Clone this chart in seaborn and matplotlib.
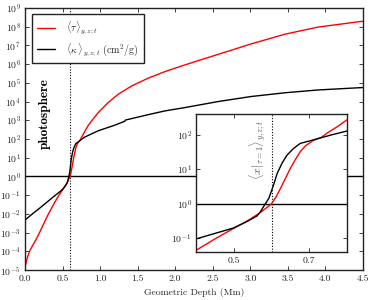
import numpy as np
import matplotlib
matplotlib.use("Agg")
import matplotlib.pyplot as plt
import matplotlib.ticker as mticker
import matplotlib.transforms as mtrans
import seaborn as sns

# ---- data ----
depth_tau = [0.0, 0.03, 0.06, 0.09, 0.15, 0.2, 0.3, 0.4, 0.45, 0.5, 0.54, 0.571,
             0.585, 0.6, 0.612, 0.624, 0.637, 0.65, 0.663, 0.676, 0.69, 0.711,
             0.731, 0.75, 0.775, 0.798, 0.84, 0.887, 0.975, 1.108, 1.241, 1.418,
             1.64, 1.862, 2.084, 2.3, 2.57, 3.01, 3.46, 3.9, 4.45, 4.5]
log_tau = [-4.85, -4.35, -4.0, -3.78, -3.35, -2.95, -2.1, -1.35, -1.02, -0.71,
           -0.47, -0.25, -0.13, 0.0, 0.2, 0.45, 0.74, 1.03, 1.28, 1.51, 1.68,
           1.84, 1.92, 2.07, 2.24, 2.42, 2.71, 2.97, 3.41, 3.95, 4.39, 4.83,
           5.25, 5.6, 5.9, 6.18, 6.52, 7.08, 7.6, 7.98, 8.27, 8.29]

depth_kappa = [0.0, 0.1, 0.2, 0.3, 0.4, 0.45, 0.5, 0.536, 0.562, 0.571, 0.582,
               0.593, 0.604, 0.615, 0.628, 0.641, 0.658, 0.676, 0.7, 0.72, 0.76,
               0.8, 0.975, 1.197, 1.33, 1.335, 1.64, 1.862, 2.13, 2.57, 3.01,
               3.46, 3.9, 4.45, 4.5]
log_kappa = [-2.33, -2.0, -1.68, -1.35, -1.02, -0.86, -0.70, -0.51, -0.35, -0.22,
             -0.03, 0.16, 0.50, 0.88, 1.18, 1.41, 1.6, 1.75, 1.82, 1.88, 2.0,
             2.11, 2.44, 2.74, 2.95, 3.01, 3.3, 3.5, 3.68, 4.0, 4.27, 4.47, 4.62,
             4.74, 4.75]

x_main_ticks = [0.0, 0.5, 1.0, 1.5, 2.0, 2.5, 3.0, 3.5, 4.0, 4.5]
x_inset_ticks = [0.5, 0.7]
photosphere_depth = 0.6

tau = 10.0 ** np.array(log_tau)
kappa = 10.0 ** np.array(log_kappa)

# ---- style ----
sns.set_theme(style="ticks")
plt.rcParams["font.family"] = ["cmr10", "DejaVu Serif"]
plt.rcParams["mathtext.fontset"] = "cm"
plt.rcParams["axes.formatter.use_mathtext"] = True
plt.rcParams["axes.unicode_minus"] = False

fig = plt.figure(figsize=(3.74, 3.0), dpi=100)
ax = fig.add_axes([0.0668, 0.1, 0.9037, 0.8733])

lbl_tau = r"$\langle\tau\rangle_{y,z;t}$"
lbl_kap = r"$\langle\kappa\,\rangle_{y,z;t}\ (\mathrm{cm}^2/\mathrm{g})$"

sns.lineplot(x=depth_tau, y=tau, ax=ax, color="red", lw=1.0, label=lbl_tau)
sns.lineplot(x=depth_kappa, y=kappa, ax=ax, color="black", lw=1.0, label=lbl_kap)
ax.axhline(1.0, color="black", lw=1.0, zorder=1)
ax.axvline(photosphere_depth, color="black", lw=0.8, ls=(0, (1, 1.5)), zorder=1)

ax.set_yscale("log")
ax.set_xlim(0, 4.5)
ax.set_ylim(1e-5, 1e9)
ax.set_xticks(x_main_ticks)
ax.xaxis.set_major_formatter(mticker.FormatStrFormatter("%.1f"))
ax.yaxis.set_major_locator(mticker.LogLocator(base=10, numticks=20))
ax.yaxis.set_minor_locator(mticker.NullLocator())
ax.tick_params(which="both", direction="in", top=True, right=True,
               length=3, width=0.6, labelsize=7, colors="#222222", pad=3)
ax.set_xlabel("Geometric Depth (Mm)", fontsize=7, labelpad=4)
ax.set_ylabel("")
for s in ax.spines.values():
    s.set_linewidth(1.0)
    s.set_color("#222222")

leg = ax.legend(loc="upper left", bbox_to_anchor=(0.02, 0.977), borderaxespad=0,
                fontsize=7.2, frameon=True, fancybox=False, handlelength=1.8,
                handletextpad=1.1, borderpad=0.55, labelspacing=0.5)
leg.get_frame().set_edgecolor("#222222")
leg.get_frame().set_linewidth(1.0)
leg.get_frame().set_alpha(1.0)
leg.set_zorder(5)

ax.text(0.27, 10 ** 3.35, "photosphere", rotation=90, ha="center", va="center",
        fontsize=9.5, family=["cmb10", "DejaVu Serif"], color="black")

# ---- inset ----
axins = fig.add_axes([0.524, 0.16, 0.404, 0.46])
axins.set_facecolor("white")
sns.lineplot(x=depth_tau, y=tau, ax=axins, color="red", lw=1.0, legend=False)
sns.lineplot(x=depth_kappa, y=kappa, ax=axins, color="black", lw=1.0, legend=False)
axins.axhline(1.0, color="black", lw=1.0, zorder=1)
axins.axvline(photosphere_depth, color="black", lw=0.8, ls=(0, (1, 1.5)), zorder=1)
axins.set_yscale("log")
axins.set_xlim(0.4, 0.8)
axins.set_ylim(0.04, 400)
axins.set_xticks(x_inset_ticks)
axins.xaxis.set_major_formatter(mticker.FormatStrFormatter("%.1f"))
axins.yaxis.set_major_locator(mticker.LogLocator(base=10, numticks=20))
axins.yaxis.set_minor_locator(mticker.NullLocator())
axins.tick_params(which="both", direction="in", top=True, right=True,
                  length=3, width=0.6, labelsize=7, colors="#222222", pad=3)
axins.set_xlabel("")
axins.set_ylabel("")
for s in axins.spines.values():
    s.set_linewidth(1.0)
    s.set_color("#222222")
axins.text(0.563, 0.955, r"$\langle x|_{\tau=1}\rangle_{y,z;t}$", rotation=90,
           ha="center", va="top", fontsize=8.5, color="#555555",
           transform=mtrans.blended_transform_factory(axins.transData, axins.transAxes))

fig.savefig("out.png", dpi=100)
